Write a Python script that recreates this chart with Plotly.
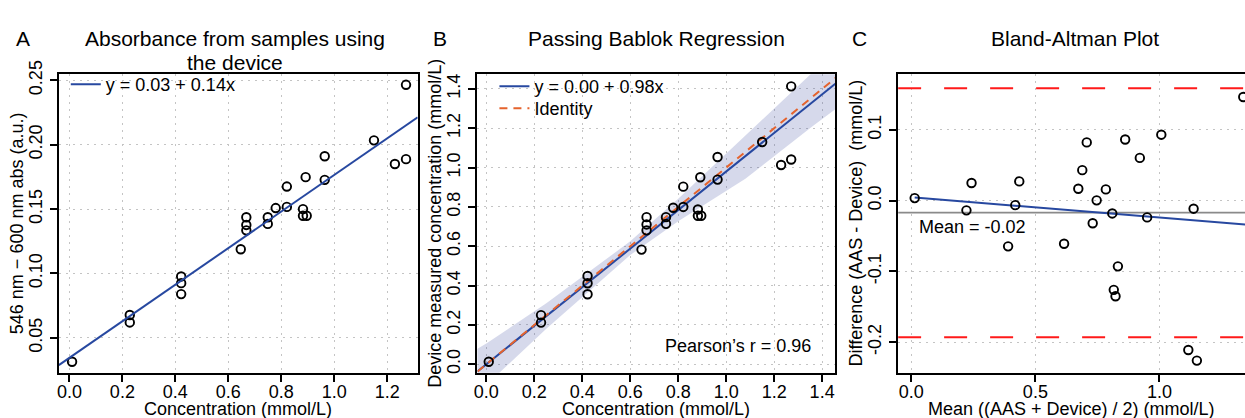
import plotly.graph_objects as go

W, H = 1245, 418

# ---------------- data ----------------
# AAS concentration (mmol/L), shared by panels A and B
conc = [0.010, 0.228, 0.228, 0.422, 0.422, 0.422, 0.647, 0.668, 0.668, 0.668,
        0.749, 0.749, 0.779, 0.821, 0.821, 0.882, 0.882, 0.896, 0.892, 0.964,
        0.964, 1.150, 1.229, 1.271, 1.271]
# Panel A: absorbance 546 nm - 600 nm (a.u.)
absorb = [0.0315, 0.0678, 0.0620, 0.0977, 0.0925, 0.0840, 0.1188, 0.1437, 0.1377, 0.1335,
          0.1437, 0.1385, 0.1508, 0.1517, 0.1675, 0.1500, 0.1448, 0.1448, 0.1748, 0.1910,
          0.1727, 0.2034, 0.1850, 0.1888, 0.2465]
# Panel B: device measured concentration (mmol/L)
device = [0.013, 0.250, 0.212, 0.449, 0.412, 0.356, 0.583, 0.748, 0.711, 0.681,
          0.748, 0.714, 0.796, 0.800, 0.903, 0.787, 0.755, 0.755, 0.951, 1.054,
          0.939, 1.130, 1.013, 1.041, 1.413]
# Panel A linear fit
fitA_intercept, fitA_slope = 0.0345, 0.142
# Panel B Passing-Bablok fit and its confidence band
fitB_intercept, fitB_slope = 0.0, 0.98
band_x = [-0.05, 0.00, 0.25, 0.60, 0.80, 1.08, 1.36, 1.47]
band_upper = [0.070, 0.105, 0.310, 0.625, 0.841, 1.160, 1.478, 1.610]
band_lower = [-0.170, -0.105, 0.180, 0.555, 0.727, 0.943, 1.210, 1.310]
pearson_r = 0.96
# Panel C: Bland-Altman
ba_mean = [0.0134, 0.222, 0.2426, 0.390, 0.4189, 0.435, 0.6157, 0.673, 0.689, 0.707,
           0.731, 0.747, 0.784, 0.810, 0.816, 0.823, 0.8326, 0.862, 0.921, 0.9505,
           1.0076, 1.1165, 1.1378, 1.151, 1.338]
ba_diff = [0.0037, -0.0136, 0.0250, -0.0645, -0.0063, 0.0273, -0.0608, 0.0169, 0.0432, 0.0824,
           -0.0318, 0.0005, 0.0160, -0.0180, -0.1260, -0.1350, -0.0928, 0.0865, 0.0605, -0.0236,
           0.0933, -0.2110, -0.0113, -0.2260, 0.1465]
ba_mean_diff = -0.0168
ba_upper_loa = 0.159
ba_lower_loa = -0.1928
fitC_intercept, fitC_slope = 0.0050, -0.0287

# tick labels
ticksA_x = ["0.0", "0.2", "0.4", "0.6", "0.8", "1.0", "1.2"]
ticksA_y = ["0.05", "0.10", "0.15", "0.20", "0.25"]
ticksB = ["0.0", "0.2", "0.4", "0.6", "0.8", "1.0", "1.2", "1.4"]
ticksC_x = ["0.0", "0.5", "1.0"]
ticksC_y = ["-0.2", "-0.1", "0.0", "0.1"]

# ---------------- styling ----------------
FONT = "Liberation Sans, Arial, Helvetica, sans-serif"
BLUE = "#2748a0"
ORANGE = "#e5632d"
RED = "#ff1a1a"
GRID = "#c4c4c4"

rngA_x = [-0.040, 1.315]
rngA_y = [0.023, 0.2547]
rngB_x = [-0.037, 1.455]
rngB_y = [-0.0426, 1.4745]
rngC_x = [-0.0534, 1.345]
rngC_y = [-0.243, 0.1787]

def px(x):
    return x / W

def py(y):
    return 1 - y / H

ydom = [py(372), py(62.5)]
domA = [px(55), px(415)]
domB = [px(475), px(834)]
domC = [px(897), 1.0]

marker = dict(symbol="circle-open", size=8.5, color="black", line=dict(width=1.9, color="black"))

fig = go.Figure()

# Panel A
fig.add_trace(go.Scatter(x=conc, y=absorb, mode="markers", marker=marker,
                         xaxis="x", yaxis="y", showlegend=False, hoverinfo="skip"))
fig.add_trace(go.Scatter(x=rngA_x, y=[fitA_intercept + fitA_slope * v for v in rngA_x],
                         mode="lines", line=dict(color=BLUE, width=2),
                         name="y = 0.03 + 0.14x",
                         xaxis="x", yaxis="y", legend="legend"))

# Panel B
fig.add_trace(go.Scatter(x=band_x + band_x[::-1], y=band_upper + band_lower[::-1],
                         fill="toself", fillcolor="rgba(70,80,165,0.22)", line=dict(width=0),
                         mode="lines", xaxis="x2", yaxis="y2", showlegend=False, hoverinfo="skip"))
fig.add_trace(go.Scatter(x=rngB_x, y=[fitB_intercept + fitB_slope * v for v in rngB_x],
                         mode="lines", line=dict(color=BLUE, width=2),
                         name=f"y = {fitB_intercept:.2f} + {fitB_slope:.2f}x",
                         xaxis="x2", yaxis="y2", legend="legend2"))
fig.add_trace(go.Scatter(x=rngB_x, y=rngB_x, mode="lines",
                         line=dict(color=ORANGE, width=2, dash="8px,6px"),
                         name="Identity", xaxis="x2", yaxis="y2", legend="legend3"))
fig.add_trace(go.Scatter(x=conc, y=device, mode="markers", marker=marker,
                         xaxis="x2", yaxis="y2", showlegend=False, hoverinfo="skip"))

# Panel C
fig.add_trace(go.Scatter(x=rngC_x, y=[ba_upper_loa] * 2, mode="lines",
                         line=dict(color=RED, width=2, dash="23px,23px"),
                         xaxis="x3", yaxis="y3", showlegend=False, hoverinfo="skip"))
fig.add_trace(go.Scatter(x=rngC_x, y=[ba_lower_loa] * 2, mode="lines",
                         line=dict(color=RED, width=2, dash="23px,23px"),
                         xaxis="x3", yaxis="y3", showlegend=False, hoverinfo="skip"))
fig.add_trace(go.Scatter(x=rngC_x, y=[ba_mean_diff] * 2, mode="lines",
                         line=dict(color="#8a8a8a", width=1.6),
                         xaxis="x3", yaxis="y3", showlegend=False, hoverinfo="skip"))
cx = [min(ba_mean), max(ba_mean) + 0.02]
fig.add_trace(go.Scatter(x=cx, y=[fitC_intercept + fitC_slope * v for v in cx], mode="lines",
                         line=dict(color=BLUE, width=2),
                         xaxis="x3", yaxis="y3", showlegend=False, hoverinfo="skip"))
fig.add_trace(go.Scatter(x=ba_mean, y=ba_diff, mode="markers", marker=marker,
                         xaxis="x3", yaxis="y3", showlegend=False, hoverinfo="skip"))

tickfont = dict(family=FONT, size=18, color="black")

def axis(dom, rng, vals, text, anchor, mirror=True, angle=None, standoff=-5):
    d = dict(domain=dom, range=rng, tickmode="array", tickvals=vals, ticktext=text,
             anchor=anchor,
             showline=True, linewidth=2, linecolor="black", mirror=mirror,
             ticks="outside", ticklen=7, tickwidth=1.5, tickcolor="black",
             showgrid=True, gridcolor=GRID, griddash="2px,5px", gridwidth=1.2,
             zeroline=False, tickfont=tickfont, fixedrange=True,
             ticklabelstandoff=standoff)
    if angle is not None:
        d["tickangle"] = angle
    return d

valsA_x = [float(t) for t in ticksA_x]
valsA_y = [float(t) for t in ticksA_y]
valsB = [float(t) for t in ticksB]
valsC_x = [float(t) for t in ticksC_x]
valsC_y = [float(t) for t in ticksC_y]

annotations = []

def ann(x, y, text, size=18, angle=0, xanchor="center", yanchor="middle"):
    annotations.append(dict(x=px(x), y=py(y), xref="paper", yref="paper", text=text,
                            showarrow=False, textangle=angle, xanchor=xanchor, yanchor=yanchor,
                            font=dict(family=FONT, size=size, color="black")))

# titles and panel letters
ann(19.5, 25, "A", size=21)
ann(437.5, 25, "B", size=21)
ann(858.5, 25, "C", size=21)
ann(232, 25, "Absorbance from samples using", size=21)
ann(232, 50, "the device", size=21)
ann(655, 25, "Passing Bablok Regression", size=21)
ann(1074, 25, "Bland-Altman Plot", size=21)
# axis titles
ann(235, 410, "Concentration (mmol/L)")
ann(654.5, 410, "Concentration (mmol/L)")
ann(1071, 410, "Mean ((AAS + Device) / 2) (mmol/L)")
ann(13, 217, "546 nm \u2212 600 nm abs (a.u.)", angle=-90)
ann(433, 217, "Device measured concentration (mmol/L)", angle=-90)
ann(855, 217, "Difference (AAS - Device)  (mmol/L)", angle=-90)
# in-plot texts
ann(736.5, 344.3, f"Pearson\u2019s r = {pearson_r:.2f}")
ann(916, 220.7, f"Mean = {ba_mean_diff:.2f}", xanchor="left")

legend_common = dict(bgcolor="rgba(0,0,0,0)", borderwidth=0, xanchor="left", yanchor="top",
                     font=dict(family=FONT, size=18, color="black"), itemwidth=30,
                     tracegroupgap=0)

fig.update_layout(
    width=W, height=H, margin=dict(l=0, r=0, t=0, b=0),
    paper_bgcolor="white", plot_bgcolor="white",
    font=dict(family=FONT, size=18, color="black"),
    xaxis=axis(domA, rngA_x, valsA_x, ticksA_x, "y"),
    yaxis=axis(ydom, rngA_y, valsA_y, ticksA_y, "x", angle=-90, standoff=1),
    xaxis2=axis(domB, rngB_x, valsB, ticksB, "y2"),
    yaxis2=axis(ydom, rngB_y, valsB, ticksB, "x2", angle=-90, standoff=1),
    xaxis3=axis(domC, rngC_x, valsC_x, ticksC_x, "y3"),
    yaxis3=axis(ydom, rngC_y, valsC_y, ticksC_y, "x3", mirror=False, angle=-90, standoff=1),
    legend=dict(x=px(62), y=py(54), **legend_common),
    legend2=dict(x=px(492), y=py(56), **legend_common),
    legend3=dict(x=px(492), y=py(79), **legend_common),
    annotations=annotations,
    showlegend=True,
)

fig.write_html("out.html", config={"displayModeBar": False},
               post_script="document.body.style.margin='0px';document.body.style.overflow='hidden';")
